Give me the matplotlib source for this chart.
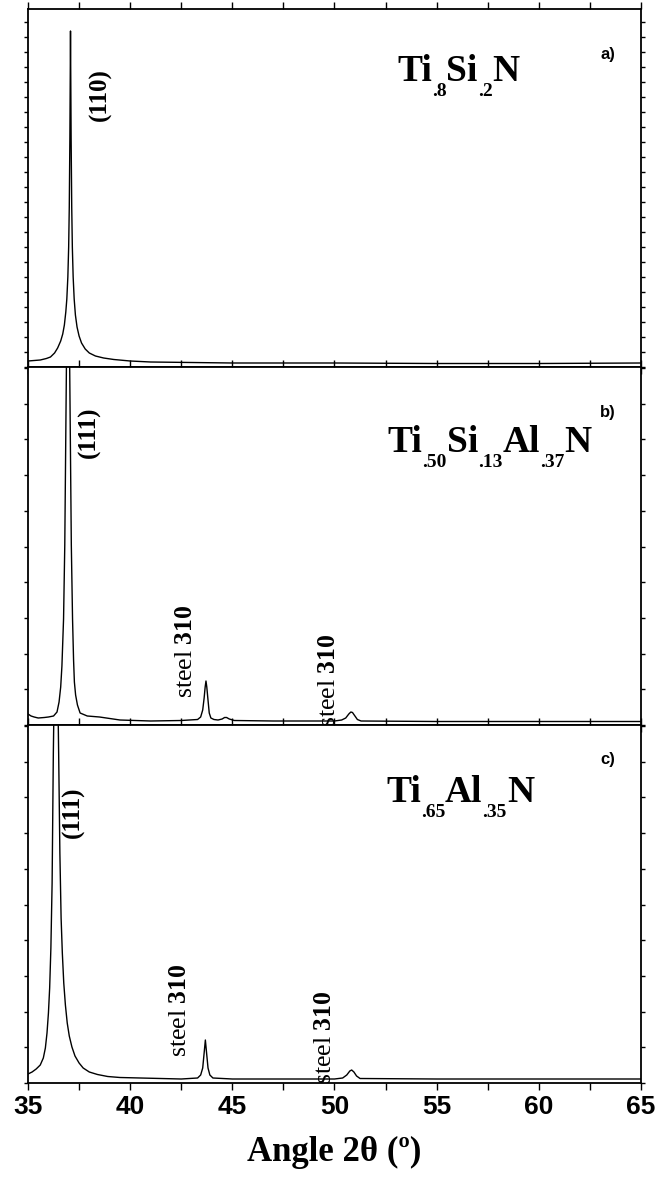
import matplotlib.pyplot as plt
from matplotlib.ticker import MultipleLocator, NullFormatter

plt.rcParams['mathtext.fontset'] = 'custom'
plt.rcParams['mathtext.rm'] = 'Liberation Serif'
plt.rcParams['mathtext.bf'] = 'Liberation Serif:bold'
plt.rcParams['mathtext.it'] = 'Liberation Serif:italic'

# a) Ti.8Si.2N  (intensity in arbitrary units, read off the picture)
angle_a = [35.0, 35.3, 35.6, 35.9, 36.1, 36.3, 36.45, 36.6, 36.7, 36.78,
           36.85, 36.9, 36.95, 36.99, 37.02, 37.05, 37.08, 37.11, 37.14, 37.17,
           37.21, 37.26, 37.32, 37.4, 37.5, 37.62, 37.8, 38.0, 38.3, 38.7,
           39.2, 40.0, 41.0, 43.0, 45.0, 50.0, 55.0, 60.0, 65.0]
int_a = [6, 6.5, 7, 8.5, 10, 14, 19, 26, 33, 42,
         55, 68, 90, 120, 160, 230, 336, 230, 160, 120,
         90, 68, 52, 40, 31, 24, 18, 14, 11, 9,
         7.5, 6, 5, 4.5, 4, 4, 3.5, 3.5, 4]

# b) Ti.50Si.13Al.37N
angle_b = [35.0, 35.15, 35.3, 35.5, 35.8, 36.0, 36.25, 36.42, 36.52, 36.6,
           36.66, 36.74, 36.8, 36.88, 36.96, 37.04, 37.12, 37.18, 37.23, 37.27,
           37.33, 37.42, 37.55, 37.9, 38.5, 39.5, 41.0, 42.5, 43.3, 43.45,
           43.55, 43.62, 43.67, 43.71, 43.75, 43.8, 43.87, 43.95, 44.1, 44.3,
           44.5, 44.62, 44.72, 44.85, 45.1, 47.0, 50.0, 50.35, 50.55, 50.7,
           50.8, 50.88, 51.0, 51.12, 51.3, 55.0, 60.0, 65.0]
int_b = [11, 9, 8, 7, 7.5, 8, 9, 13, 23, 38,
         59, 106, 180, 358, 440, 358, 180, 106, 65, 43,
         30, 20, 12, 9, 8, 5, 4, 4.5, 5.5, 8,
         15, 27, 38, 44, 38, 27, 12, 7, 5.5, 5,
         6, 7.5, 7.5, 6, 4.5, 4, 4, 5, 7, 11,
         13, 12.5, 9, 5.5, 4, 3.5, 3.5, 3.5]

# c) Ti.65Al.35N
angle_c = [35.0, 35.2, 35.4, 35.6, 35.75, 35.85, 35.93, 36.0, 36.06, 36.12,
           36.18, 36.24, 36.3, 36.37, 36.44, 36.5, 36.56, 36.62, 36.68, 36.75,
           36.83, 36.92, 37.02, 37.15, 37.3, 37.5, 37.7, 38.0, 38.4, 38.9,
           39.5, 40.5, 41.5, 42.5, 43.3, 43.45, 43.55, 43.62, 43.68, 43.74,
           43.81, 43.9, 44.05, 45.0, 50.0, 50.4, 50.6, 50.75, 50.84, 50.95,
           51.08, 51.25, 55.0, 65.0]
int_c = [9, 11, 14, 18, 25, 35, 50, 70, 95, 135,
         200, 330, 420, 450, 420, 330, 230, 165, 130, 100,
         78, 60, 47, 36, 27, 20, 15, 11, 8.5, 6.5,
         5.5, 5, 4.5, 4, 5, 8, 15, 30, 43, 30,
         15, 8, 5, 4, 4, 5, 8, 12, 13, 11,
         7, 4.5, 4, 4]

# chemical formulas as (text, is_subscript) pieces
formula_a = [('Ti', False), ('.8', True), ('Si', False), ('.2', True), ('N', False)]
formula_b = [('Ti', False), ('.50', True), ('Si', False), ('.13', True),
             ('Al', False), ('.37', True), ('N', False)]
formula_c = [('Ti', False), ('.65', True), ('Al', False), ('.35', True), ('N', False)]
panel_tags = ['a)', 'b)', 'c)']
steel_label = r'steel $\mathbf{310}$'
serif = 'Liberation Serif'


def draw_formula(ax, x, y, pieces, size=27, sub_size=14, drop=8):
    prev = None
    prev_sub = False
    for s, sub in pieces:
        fs = sub_size if sub else size
        if prev is None:
            prev = ax.text(x, y, s, transform=ax.transAxes, fontsize=fs,
                           fontfamily=serif, fontweight='bold', va='baseline')
        else:
            dy = 0
            if sub and not prev_sub:
                dy = -drop
            elif prev_sub and not sub:
                dy = drop
            prev = ax.annotate(s, xy=(1, 0), xycoords=prev, xytext=(0, dy),
                               textcoords='offset points', fontsize=fs,
                               fontfamily=serif, fontweight='bold',
                               ha='left', va='bottom')
        prev_sub = sub


fig = plt.figure(figsize=(6.62, 11.83), dpi=100)
left, width, height = 28 / 662, 613 / 662, 358 / 1183
bottoms = [816 / 1183, 458 / 1183, 100 / 1183]

axes = [fig.add_axes([left, b, width, height]) for b in bottoms]
data = [(angle_a, int_a), (angle_b, int_b), (angle_c, int_c)]

for i, ax in enumerate(axes):
    x, y = data[i]
    ax.plot(x, y, color='black', lw=1.0)
    ax.set_xlim(35, 65)
    ax.set_ylim(0, 358)
    for s in ax.spines.values():
        s.set_linewidth(1.3)
    ax.xaxis.set_major_locator(MultipleLocator(5))
    ax.xaxis.set_minor_locator(MultipleLocator(2.5))
    ax.yaxis.set_major_locator(MultipleLocator(15 if i == 0 else 35.7))
    ax.yaxis.set_major_formatter(NullFormatter())
    ax.tick_params(axis='y', which='both', direction='out', length=3, width=1,
                   left=True, right=True)
    ax.tick_params(axis='x', which='both', direction='out', length=5, width=1,
                   bottom=True)
    ax.tick_params(axis='x', which='both', top=True)
    if i < 2:
        ax.xaxis.set_major_formatter(NullFormatter())

axes[2].set_xticks([35, 40, 45, 50, 55, 60, 65])
for lab in axes[2].get_xticklabels():
    lab.set_fontfamily('Liberation Sans')
    lab.set_fontweight('bold')
    lab.set_fontsize(19)
axes[2].set_xlabel('Angle 2θ (º)', fontfamily=serif,
                   fontweight='bold', fontsize=25, labelpad=12)

draw_formula(axes[0], 0.602, 0.80, formula_a)
draw_formula(axes[1], 0.587, 0.763, formula_b)
draw_formula(axes[2], 0.584, 0.785, formula_c)

tag_y = [0.872, 0.874, 0.905]
for ax, t, ty in zip(axes, panel_tags, tag_y):
    ax.text(0.946, ty, t, transform=ax.transAxes, fontsize=12,
            fontfamily='Liberation Sans', fontweight='bold', ha='center', va='center')

# peak labels
axes[0].text(38.52, 272, '(110)', rotation=90, fontsize=18, fontfamily=serif,
             fontweight='bold', ha='center', va='center')
axes[1].text(37.99, 293, '(111)', rotation=90, fontsize=18, fontfamily=serif,
             fontweight='bold', ha='center', va='center')
axes[2].text(37.2, 271, '(111)', rotation=90, fontsize=18, fontfamily=serif,
             fontweight='bold', ha='center', va='center')

steel_pos = [(1, 42.73, 74), (1, 49.73, 45), (2, 42.44, 73), (2, 49.54, 46)]
for k, sx, sy in steel_pos:
    axes[k].text(sx, sy, steel_label, rotation=90, fontsize=18.5, fontfamily=serif,
                 ha='center', va='center')

fig.savefig('out.png', dpi=100)
